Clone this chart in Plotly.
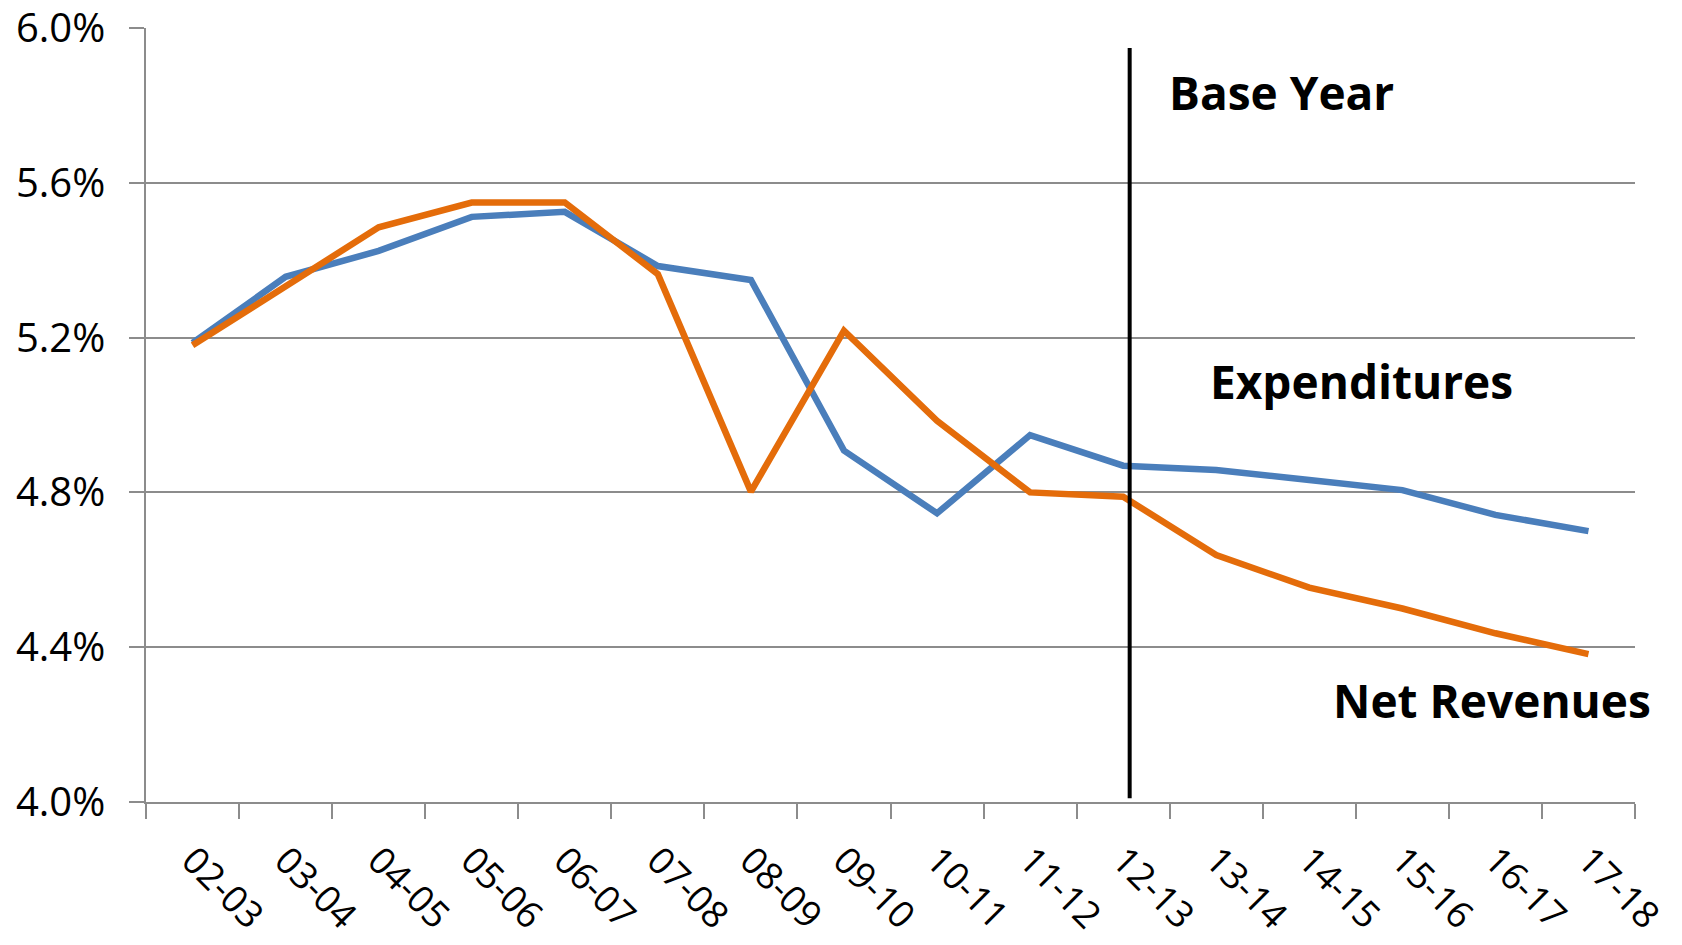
import plotly.graph_objects as go

years = ["02-03", "03-04", "04-05", "05-06", "06-07", "07-08", "08-09", "09-10",
         "10-11", "11-12", "12-13", "13-14", "14-15", "15-16", "16-17", "17-18"]
expenditures = [5.186, 5.357, 5.424, 5.512, 5.525, 5.385, 5.349, 4.908,
                4.746, 4.948, 4.869, 4.858, 4.832, 4.806, 4.742, 4.700]
net_revenues = [5.180, 5.335, 5.485, 5.549, 5.549, 5.364, 4.802, 5.218,
                4.985, 4.800, 4.789, 4.638, 4.554, 4.500, 4.436, 4.382]
y_ticks = [4.0, 4.4, 4.8, 5.2, 5.6, 6.0]
base_year_index = 10.07

BLUE = "#4A7EBB"
ORANGE = "#E46C0A"
GRID = "#8C8C8C"

fig = go.Figure()
fig.add_trace(go.Scatter(x=years, y=expenditures, mode="lines", name="Expenditures",
                         line=dict(color=BLUE, width=6.5)))
fig.add_trace(go.Scatter(x=years, y=net_revenues, mode="lines", name="Net Revenues",
                         line=dict(color=ORANGE, width=6.5)))

fig.add_shape(type="line", xref="x", yref="y", x0=base_year_index, x1=base_year_index,
              y0=4.01, y1=5.948, line=dict(color="black", width=4))

ann_font = dict(family="Open Sans", size=46, color="black")
fig.add_annotation(xref="paper", yref="paper", x=0.686, y=0.917, text="<b>Base Year</b>",
                   showarrow=False, xanchor="left", yanchor="middle", font=ann_font)
fig.add_annotation(xref="paper", yref="paper", x=0.713, y=0.544, text="<b>Expenditures</b>",
                   showarrow=False, xanchor="left", yanchor="middle", font=ann_font)
fig.add_annotation(xref="paper", yref="paper", x=0.796, y=0.132, text="<b>Net Revenues</b>",
                   showarrow=False, xanchor="left", yanchor="middle", font=ann_font)

fig.update_layout(
    width=1682, height=945,
    margin=dict(l=146, r=47, t=28, b=143),
    paper_bgcolor="white", plot_bgcolor="white",
    showlegend=False,
    font=dict(family="Open Sans", color="black"),
)
fig.update_xaxes(
    type="category", tickson="boundaries", ticks="outside", ticklen=15,
    tickcolor=GRID, tickwidth=1.5, showline=True, linecolor=GRID, linewidth=1.5,
    showgrid=False, tickangle=45, tickfont=dict(size=37, family="Open Sans"),
    range=[-0.5, 15.5], automargin=False, ticklabelstandoff=20,
    ticklabeloverflow="allow",
)
fig.update_yaxes(
    range=[4.0, 6.0], tickvals=y_ticks, ticktext=[f"{v:.1f}%" for v in y_ticks],
    ticks="outside", ticklen=15, tickcolor=GRID, tickwidth=1.5,
    showgrid=True, gridcolor=GRID, gridwidth=1.5, zeroline=False,
    showline=True, linecolor=GRID, linewidth=1.5, automargin=False,
    tickfont=dict(size=40, family="Open Sans"), ticklabelstandoff=16,
    ticklabeloverflow="allow",
)

fig.write_html("out.html")
